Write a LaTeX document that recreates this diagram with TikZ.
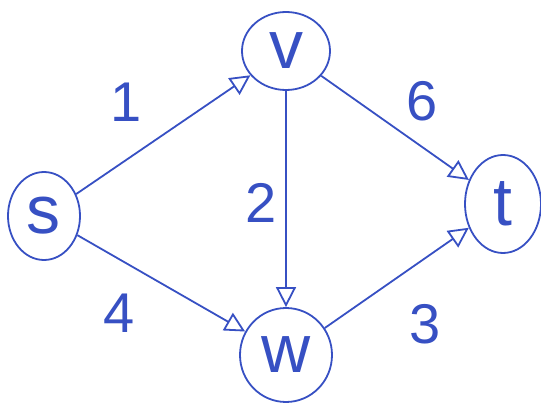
\documentclass[tikz,border=0pt]{standalone}
\usepackage{fontspec}
\setmainfont{Liberation Sans}
\usetikzlibrary{arrows.meta,shapes.geometric}
\definecolor{ink}{RGB}{55,80,195}

\tikzset{
	vertex/.style={draw=ink, ellipse, line width=1.8pt, inner sep=0pt, text=ink, font=\fontsize{68}{68}\selectfont},
	wt/.style={text=ink, font=\fontsize{56}{56}\selectfont, inner sep=16pt},
	arc/.style={draw=ink, line width=1.8pt, -{Triangle[open, length=20pt, width=20pt]}},
}

\begin{document}
\begin{tikzpicture}[x=1pt,y=-1pt]
		\useasboundingbox (0,0) rectangle (541,403);
		\node[vertex, minimum width=72pt, minimum height=88pt] (s) at (44,216) {s};
		\node[vertex, minimum width=88pt, minimum height=78pt] (v) at (286,51) {v};
		\node[vertex, minimum width=92pt, minimum height=94pt] (w) at (286,355) {w};
		\node[vertex, minimum width=76pt, minimum height=98pt] (t) at (503,204) {t};
		\path[arc]
		(s) edge node [wt, auto, pos=.47] {1} (v)
		(v) edge node [wt, auto, pos=.52, inner sep=8pt] {6} (t)
		(v) edge node [wt, auto=right, pos=.52, inner sep=8pt] {2} (w)
		(s) edge node [wt, auto=right, pos=.44] {4} (w)
		(w) edge node [wt, auto=right, pos=.44, inner sep=20pt] {3} (t)
		;
	\end{tikzpicture}
\end{document}
